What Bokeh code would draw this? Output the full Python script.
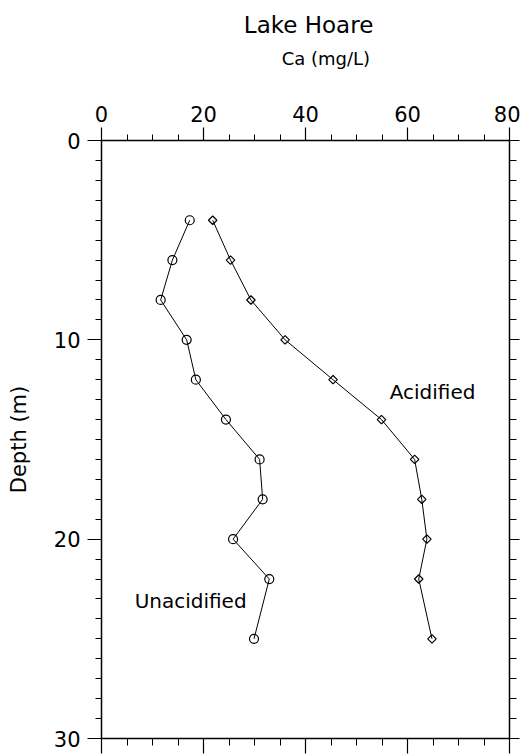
import math
from bokeh.plotting import figure
from bokeh.models import Range1d, LinearAxis, FixedTicker, Label
from bokeh.layouts import column
from bokeh.core.properties import value
from bokeh.embed import file_html
from bokeh.resources import INLINE

# ---- data ----
depth_unacid = [4, 6, 8, 10, 12, 14, 16, 18, 20, 22, 25]
ca_unacid = [17.3, 13.9, 11.6, 16.7, 18.5, 24.4, 31.0, 31.6, 25.8, 32.9, 29.9]
depth_acid = [4, 6, 8, 10, 12, 14, 16, 18, 20, 22, 25]
ca_acid = [21.8, 25.3, 29.3, 36.0, 45.4, 54.9, 61.4, 62.8, 63.8, 62.2, 64.8]
x_major_ticks = [0, 20, 40, 60, 80]
x_minor_ticks = list(range(0, 81, 5))
y_major_ticks = [0, 10, 20, 30]
y_minor_ticks = list(range(0, 31, 1))
title_text = "Lake Hoare"
x_label_text = "Ca (mg/L)"
y_label_text = "Depth (m)"

FONT = "DejaVu Sans"
HEAD = 80

# ---- header (title + x-axis label), frame aligned with the main plot ----
head = figure(width=520, height=HEAD, output_backend="svg", toolbar_location=None,
              x_range=Range1d(0, 80), y_range=Range1d(HEAD, 0),
              x_axis_location=None, y_axis_location=None,
              min_border_left=101, min_border_right=11,
              min_border_top=0, min_border_bottom=0)
head.outline_line_color = None
head.xgrid.visible = False
head.ygrid.visible = False
head.background_fill_color = "white"
head.border_fill_color = "white"
head.text(x=[40.6], y=[24], text=[title_text], text_font=value(FONT),
          text_font_size="23px", text_color="black",
          text_align="center", text_baseline="alphabetic")
head.text(x=[44.0], y=[58], text=[x_label_text], text_font=value(FONT),
          text_font_size="18px", text_color="black",
          text_align="center", text_baseline="alphabetic")

# ---- main plot ----
p = figure(width=520, height=756 - HEAD, output_backend="svg", toolbar_location=None,
           x_range=Range1d(0, 80), y_range=Range1d(30, 0),
           x_axis_location=None, y_axis_location=None,
           min_border_left=101, min_border_right=11,
           min_border_top=140 - HEAD, min_border_bottom=18)
p.outline_line_color = None
p.xgrid.visible = False
p.ygrid.visible = False
p.background_fill_color = "white"
p.border_fill_color = "white"


def style_axis(ax, major, minor, maj_out, min_out, labels=True):
    ax.ticker = FixedTicker(ticks=major, minor_ticks=minor)
    ax.axis_line_color = "black"
    ax.axis_line_width = 1.5
    ax.major_tick_line_color = "black"
    ax.minor_tick_line_color = "black"
    ax.major_tick_line_width = 1.2
    ax.minor_tick_line_width = 1
    ax.major_tick_in = 0
    ax.minor_tick_in = 0
    ax.major_tick_out = maj_out
    ax.minor_tick_out = min_out
    ax.major_label_text_font = FONT
    ax.major_label_text_color = "black"
    ax.axis_label_text_font = FONT
    ax.axis_label_text_color = "black"
    ax.axis_label_text_font_style = "normal"
    if not labels:
        ax.major_label_overrides = {t: "" for t in major}
        ax.major_label_standoff = 0


top = LinearAxis()
style_axis(top, x_major_ticks, x_minor_ticks, 13, 6)
top.major_label_text_font_size = "21px"
top.major_label_standoff = 6
p.add_layout(top, "above")

bottom = LinearAxis()
style_axis(bottom, x_major_ticks, x_minor_ticks, 15, 7, labels=False)
p.add_layout(bottom, "below")

left = LinearAxis(axis_label=y_label_text)
style_axis(left, y_major_ticks, y_minor_ticks, 14, 6)
left.major_label_text_font_size = "21px"
left.major_label_standoff = 7
left.axis_label_text_font_size = "21px"
left.axis_label_standoff = 20
p.add_layout(left, "left")

right = LinearAxis()
style_axis(right, y_major_ticks, y_minor_ticks, 10, 7, labels=False)
p.add_layout(right, "right")

# ---- series ----
p.line(ca_unacid, depth_unacid, line_color="black", line_width=1)
p.scatter(ca_unacid, depth_unacid, marker="circle", size=9,
          fill_color=None, line_color="black", line_width=1.2)
p.line(ca_acid, depth_acid, line_color="black", line_width=1)
p.scatter(ca_acid, depth_acid, marker="square", size=6, angle=math.pi / 4,
          fill_color=None, line_color="black", line_width=1.2)

p.add_layout(Label(x=56.5, y=12.6, text="Acidified", text_font=FONT,
                   text_font_size="20px", text_color="black",
                   text_baseline="alphabetic"))
p.add_layout(Label(x=6.5, y=23.1, text="Unacidified", text_font=FONT,
                   text_font_size="20px", text_color="black",
                   text_baseline="alphabetic"))

layout = column(head, p, spacing=0)
open("out.html", "w").write(file_html(layout, INLINE))
